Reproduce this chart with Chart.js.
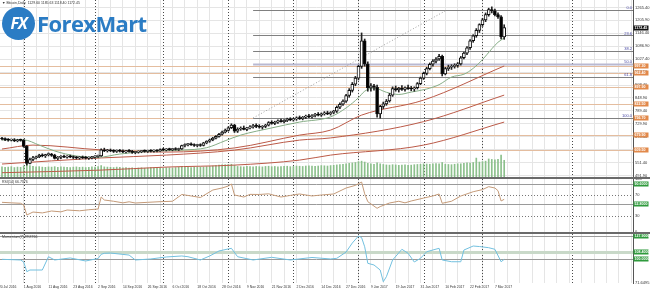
<!DOCTYPE html>
<html>
<head>
<meta charset="utf-8">
<script src="https://cdn.jsdelivr.net/npm/chart.js@4.4.1/dist/chart.umd.min.js"></script>
<style>
body { margin: 0; background: #fff; }
#wrap { position: relative; width: 650px; height: 292px; overflow: hidden; background: #fff; }
canvas { position: absolute; left: 0; }
.sep { position: absolute; left: 0; width: 650px; height: 2px; background: #6a6a6a; }
#logo { position: absolute; left: 2px; top: 6px; height: 34px; display: flex; align-items: center; }
#logo .circ { width: 33px; height: 33px; border-radius: 50%; background: #2b7cc4; color: #fff;
  font: italic bold 16px "Open Sans", sans-serif; display: flex; align-items: center; justify-content: center; letter-spacing: -1px; }
#logo .name { font: bold 22px "Open Sans", sans-serif; color: #2b7cc4; margin-left: 2px; letter-spacing: -0.6px; }
</style>
</head>
<body>
<div id="wrap">
  <canvas id="main" width="650" height="177" style="top:0"></canvas>
  <canvas id="rsi" width="650" height="55" style="top:178px"></canvas>
  <canvas id="mom" width="650" height="58" style="top:234px"></canvas>
  <div class="sep" style="top:177px"></div>
  <div class="sep" style="top:232px"></div>
  <div id="logo"><div class="circ">FX</div><span class="name">ForexMart</span></div>
</div>
<script>
// daily bars, index 0 = 21 Jul 2016
const opens = [664,660,657,655,656,652,655,654,626,548, 566,574,578,586,583,588,590,585,571,576,
  580,577,580,578,575,573,576,574,572,574, 577,580,582,610,606,608,605,603,607,604,
  601,605,603,598,600,602,604,603,606,604, 607,605,612,610,613,611,614,612,615,630,
  634,636,633,630,632,630,642,650,656,664, 672,682,692,700,712,724,696,706,710,704,
  711,716,722,718,714,718,724,736,732,738, 744,740,746,750,748,752,758,754,760,766,
  762,768,774,770,776,780,776,782,788,806, 820,834,860,884,912,940,994,1112,1005,895,
  905,898,775,810,822,835,862,892,886,894, 888,896,892,890,896,915,940,962,984,1004,
  1018,1028,1040,960,984,990,994,998,1006,1034, 1055,1080,1112,1135,1160,1186,1208,1232,1255,1250,
  1232,1222,1129.6];
const highs = [668,666,662,660,662,659,660,658,630,572, 580,582,590,592,590,596,594,590,580,584,
  586,584,586,582,580,579,582,580,578,580, 584,586,615,618,612,614,611,610,612,610,
  608,611,608,604,606,608,610,609,611,610, 612,615,618,616,618,617,620,618,632,638,
  640,642,638,636,638,645,652,660,668,676, 686,696,706,716,730,728,712,716,720,714,
  722,728,730,726,722,728,740,744,742,748, 752,750,756,758,756,762,766,764,770,774,
  772,778,782,780,786,788,786,792,812,826, 840,866,892,920,948,1000,1148,1120,1015,915,
  912,908,815,830,842,870,900,904,898,906, 900,908,902,900,920,945,968,990,1010,1025,
  1035,1050,1046,990,1000,1002,1006,1012,1040,1060, 1085,1118,1140,1168,1190,1215,1240,1262,1268,1258,
  1240,1228,1185.63];
const lows = [656,652,650,651,648,647,650,622,540,545, 560,568,574,578,575,582,580,568,565,570,
  574,572,574,570,568,567,570,568,566,569, 572,575,580,602,600,602,598,598,600,597,
  596,600,594,592,595,597,599,598,600,599, 601,603,606,605,608,606,609,607,612,624,
  628,630,626,624,626,628,638,645,652,660, 668,678,688,696,708,690,690,700,702,698,
  706,710,712,710,706,712,720,728,726,732, 738,734,740,744,742,746,750,748,754,758,
  756,762,766,764,770,772,770,776,782,800, 814,828,852,876,905,932,985,995,880,880,
  885,760,756,800,815,830,856,880,876,884, 880,888,882,880,890,910,934,955,978,995,
  1010,1022,950,955,975,980,986,990,1000,1028, 1048,1072,1105,1128,1150,1178,1200,1225,1240,1226,
  1215,1120,1118.4];
const closes = [660,657,655,656,652,655,654,626,548,566, 574,578,586,583,588,590,585,571,576,580,
  577,580,578,575,573,576,574,572,574,577, 580,582,610,606,608,605,603,607,604,601,
  605,603,598,600,602,604,603,606,604,607, 605,612,610,613,611,614,612,615,630,634,
  636,633,630,632,630,642,650,656,664,672, 682,692,700,712,724,696,706,710,704,711,
  716,722,718,714,718,724,736,732,738,744, 740,746,750,748,752,758,754,760,766,762,
  768,774,770,776,780,776,782,788,806,820, 834,860,884,912,940,994,1112,1005,895,905,
  898,775,810,822,835,862,892,886,894,888, 896,892,890,896,915,940,962,984,1004,1018,
  1028,1040,960,984,990,994,998,1006,1034,1055, 1080,1112,1135,1160,1186,1208,1232,1255,1250,1232,
  1222,1129.6,1172.45];
const volumes = [46,44,45,47,43,45,44,50,58,52, 48,46,47,45,44,46,45,47,44,46,
  45,44,43,45,46,44,45,43,44,46, 45,47,52,46,45,44,43,45,44,42,
  43,41,42,40,41,42,40,41,43,42, 41,42,40,43,42,41,43,44,48,45,
  44,43,45,44,46,45,47,48,50,52, 54,55,56,57,58,53,48,47,46,48,
  47,46,48,47,46,48,49,47,48,46, 47,48,49,47,48,50,49,48,50,51,
  50,49,50,52,51,50,52,53,55,56, 58,60,62,64,66,70,72,68,62,60,
  58,64,60,57,55,54,56,55,53,54, 55,53,54,56,57,58,60,59,58,60,
  61,60,66,58,57,56,58,60,60,62, 64,63,66,86,68,70,72,82,80,78,
  80,100,76];

// moving averages (bar index, value)
const ma20Idx = [0,7,12,17,24,31,38,48,58,66,72,77,87,96,106,111,115,117,120,124,128,132,137,141,145,149,152,155,158,160,162];
const ma20Val = [656,656,632,605,582,576,591,604,609,620,652,678,711,738,762,803,850,880,895,875,865,876,890,910,945,958,985,1025,1075,1105,1125];
const maLongIdx = [0,32,53,75,96,106,136,162];
const ma50Idx = [0,10,32,53,75,96,106,116,136,162];
const ma50Val = [614,632,610,600,619,678,701,770,839,996];
const ma100Val = [545,573,586,609,655,665,740,862];
const ma200Val = [505,517,531,540,563,586,632,738];

const rsiIdx = [0,3,6,7,8,10,13,16,19,21,25,28,31,32,33,36,39,41,43,47,51,55,58,61,64,68,71,73,74,75,78,80,83,86,90,93,96,100,103,107,111,114,116,117,118,121,122,125,128,130,132,136,139,141,142,145,148,152,155,157,159,160,161,162];
const rsiVal = [56,55,54.2,51,32,37.7,36,39.6,38,41.5,40,42,43.4,66,60.4,58,55,57,54.7,56,57.2,58,70.8,68,65.1,79.2,83,86.8,90.6,69.8,66,71,70.8,72,66,69,71.7,68,69.8,71.7,83,88,94.3,72,57.2,44.7,48,54.7,58,55,58.5,64,68,71.7,54.2,58,67.9,76,80,85.5,83,78,58.5,61.7];
const momIdx = [0,6,7,8,9,13,15,17,22,27,31,32,33,35,41,43,48,53,58,60,64,67,70,74,76,81,87,93,100,106,108,111,113,115,116,117,118,120,122,123,124,126,129,131,133,135,137,141,142,145,148,149,152,154,157,159,161,162];
const momVal = [100,99.2,96.8,85.2,87.2,87.2,103.1,99.2,101.6,98,101,106,107.2,107.5,105.1,99.2,100.4,102.8,104,103.1,99.2,104,110,113.2,103.1,99.2,102.4,99.2,102.2,100.4,101.2,108.7,119.5,127.9,126,115,95.2,93.2,87.2,73.2,79.2,99.2,112,107.2,96.8,101.2,109.1,113.2,99.2,97.1,97.1,111.1,115.9,115.3,113.9,112,97.1,100];

const dateIdx = [-1,7,15,23,31,39,47,55,63,71,79,87,95,103,111,119,127,135,143,151,159];
const dateLabels = ['20 Jul 2016','1 Aug 2016','11 Aug 2016','23 Aug 2016','2 Sep 2016','14 Sep 2016','26 Sep 2016',
  '6 Oct 2016','18 Oct 2016','28 Oct 2016','9 Nov 2016','21 Nov 2016','2 Dec 2016','14 Dec 2016','27 Dec 2016',
  '9 Jan 2017','19 Jan 2017','31 Jan 2017','10 Feb 2017','22 Feb 2017','7 Mar 2017'];
const sepIdx = [7,30,52,73,94,115,136,155,184];
const priceTicks = [491.9,551.4,610.9,670.4,729.9,789.4,848.9,908.4,967.9,1027.4,1086.9,1146.4,1205.9,1265.4];
const levelPrices = [997.3,962.4,897.9,822.5,756.7,679.9,609.5];
const fibRatios = [0, 0.236, 0.382, 0.5, 0.618, 1];
const fibNames = ['0.0','23.6','38.2','50.0','61.8','100.0'];
const fibLow = 756.7, fibHigh = 1253.5, fibLowIdx = 81, fibHighIdx = 143.5;
const lastPrice = 1172.45;
const rsiDotted = [30, 70];
const rsiMarks = [90.6, 52.8];
const momMarks = [127.9, 108.4, 100];

const FONT = '"Liberation Sans", Arial, sans-serif';
const xMin = -0.645, xMax = 203.55;
const gridIdx = [];
for (let v = -1; v <= 203; v += 4) gridIdx.push(v);

function xScale(showLabels) {
  return {
    type: 'linear', min: xMin, max: xMax, offset: false,
    afterBuildTicks: s => { s.ticks = gridIdx.map(v => ({ value: v })); },
    afterFit: s => { s.height = showLabels ? 9 : 0; s.paddingLeft = 0; s.paddingRight = 0; },
    grid: { color: '#e5e5e5', drawTicks: false, offset: false },
    border: { display: false },
    ticks: {
      display: showLabels, autoSkip: false, maxRotation: 0, align: 'start', padding: 2,
      font: { size: 3.4, family: FONT }, color: '#333',
      callback: v => { const k = dateIdx.indexOf(v); return k < 0 ? '' : dateLabels[k]; }
    }
  };
}
function yScale(min, max, ticks, fmt, showGrid) {
  return {
    position: 'right', min, max,
    afterBuildTicks: s => { s.ticks = ticks.map(v => ({ value: v })); },
    afterFit: s => { s.width = 17; s.paddingTop = 0; s.paddingBottom = 0; },
    grid: { display: showGrid, color: '#e5e5e5', drawTicks: false },
    border: { display: true, color: '#555' },
    ticks: { padding: 2, font: { size: 4, family: FONT }, color: '#333', callback: fmt }
  };
}
function pts(idx, val) { return idx.map((x, k) => ({ x, y: val[k] })); }
function hline(ctx, x1, x2, y, color, w, dash) {
  ctx.save();
  ctx.strokeStyle = color; ctx.lineWidth = w || 1; ctx.setLineDash(dash || []);
  ctx.beginPath(); ctx.moveTo(x1, y); ctx.lineTo(x2, y); ctx.stroke();
  ctx.restore();
}
function axisBox(ctx, a, y, fill, text) {
  ctx.fillStyle = fill;
  ctx.fillRect(a.right + 0.5, Math.round(y) - 2.5, 15, 5);
  ctx.fillStyle = '#fff';
  ctx.font = 'bold 3.6px ' + FONT;
  ctx.textAlign = 'left'; ctx.textBaseline = 'middle';
  ctx.fillText(text, a.right + 1.5, Math.round(y));
}
function header(ctx, a, text) {
  ctx.fillStyle = '#333'; ctx.font = '3.5px ' + FONT;
  ctx.textAlign = 'left'; ctx.textBaseline = 'top';
  ctx.fillText(text, 2, a.top + 1);
}

const sepLines = {
  id: 'sepLines',
  beforeDatasetsDraw(chart) {
    const { ctx, chartArea: a, scales: { x } } = chart;
    ctx.save();
    ctx.strokeStyle = '#4a4a4a'; ctx.lineWidth = 1; ctx.setLineDash([1, 2]);
    sepIdx.forEach(i => {
      const xx = Math.round(x.getPixelForValue(i)) + 0.5;
      ctx.beginPath(); ctx.moveTo(xx, a.top); ctx.lineTo(xx, a.bottom); ctx.stroke();
    });
    ctx.restore();
  }
};

const mainDecor = {
  id: 'mainDecor',
  beforeDatasetsDraw(chart) {
    const { ctx, chartArea: a, scales: { x, y } } = chart;
    ctx.save();
    ctx.beginPath(); ctx.rect(a.left, a.top, a.width, a.height); ctx.clip();
    levelPrices.forEach(p => hline(ctx, a.left, a.right, Math.round(y.getPixelForValue(p)) + 0.5, '#e4bd9f', 1));
    const fx = x.getPixelForValue(fibLowIdx);
    fibRatios.forEach(r => {
      const yy = Math.round(y.getPixelForValue(fibHigh - r * (fibHigh - fibLow))) + 0.5;
      if (r === 0.5) hline(ctx, fx, a.right, yy, '#b9b9d2', 2);
      else hline(ctx, fx, a.right, yy, '#808080', 1);
    });
    ctx.strokeStyle = '#a0a0a0'; ctx.lineWidth = 1; ctx.setLineDash([1, 2]);
    ctx.beginPath();
    ctx.moveTo(fx, y.getPixelForValue(fibLow));
    ctx.lineTo(x.getPixelForValue(fibHighIdx), y.getPixelForValue(fibHigh));
    ctx.stroke();
    ctx.restore();
  },
  afterDraw(chart) {
    const { ctx, chartArea: a, scales: { y } } = chart;
    ctx.save();
    ctx.fillStyle = '#4747a3'; ctx.font = '4px ' + FONT;
    ctx.textAlign = 'right'; ctx.textBaseline = 'bottom';
    fibRatios.forEach((r, k) => {
      const yy = y.getPixelForValue(fibHigh - r * (fibHigh - fibLow));
      ctx.fillText(fibNames[k], a.right - 1, yy);
    });
    levelPrices.forEach(p => axisBox(ctx, a, y.getPixelForValue(p), '#e2894a', p.toFixed(2)));
    axisBox(ctx, a, y.getPixelForValue(lastPrice), '#111', lastPrice.toFixed(2));
    ctx.fillStyle = '#333'; ctx.font = '3.5px ' + FONT;
    ctx.textAlign = 'left'; ctx.textBaseline = 'top';
    ctx.fillText('\u25BC Bitcoin,Daily  1129.60 1185.63 1118.40 1172.45', 2, 1);
    ctx.restore();
  }
};

const rsiDecor = {
  id: 'rsiDecor',
  beforeDatasetsDraw(chart) {
    const { ctx, chartArea: a, scales: { y } } = chart;
    rsiDotted.forEach(v => hline(ctx, a.left, a.right, Math.round(y.getPixelForValue(v)) + 0.5, '#777', 1, [1, 2]));
    rsiMarks.forEach(v => hline(ctx, a.left, a.right, Math.round(y.getPixelForValue(v)) + 0.5, '#9a9a9a', 1));
  },
  afterDraw(chart) {
    const { ctx, chartArea: a, scales: { y } } = chart;
    ctx.save();
    rsiMarks.forEach(v => axisBox(ctx, a, y.getPixelForValue(v), '#2f9a3c', v.toFixed(4)));
    header(ctx, a, 'RSI(14) 66.7376');
    ctx.restore();
  }
};

const momDecor = {
  id: 'momDecor',
  beforeDatasetsDraw(chart) {
    const { ctx, chartArea: a, scales: { y } } = chart;
    momMarks.forEach((v, k) => {
      const yy = Math.round(y.getPixelForValue(v)) + 0.5;
      if (k === 1) hline(ctx, a.left, a.right, yy, '#c9d9c9', 3);
      else hline(ctx, a.left, a.right, yy, '#9a9a9a', 1);
    });
  },
  afterDraw(chart) {
    const { ctx, chartArea: a, scales: { y } } = chart;
    ctx.save();
    momMarks.forEach(v => axisBox(ctx, a, y.getPixelForValue(v), '#2f9a3c', v.toFixed(4)));
    header(ctx, a, 'Momentum(7) 99.8766');
    ctx.restore();
  }
};

const common = {
  responsive: false, animation: false, devicePixelRatio: 1, events: [],
  plugins: { legend: { display: false }, tooltip: { enabled: false } }
};

new Chart(document.getElementById('main'), {
  type: 'bar',
  data: {
    datasets: [
      { type: 'bar', data: closes.map((c, i) => ({ x: i, y: [opens[i], c] })),
        backgroundColor: closes.map((c, i) => c >= opens[i] ? '#ffffff' : '#000000'),
        borderColor: '#111', borderWidth: 1, borderSkipped: false, barThickness: 3, minBarLength: 1,
        grouped: false, order: 0 },
      { type: 'bar', data: highs.map((h, i) => ({ x: i, y: [lows[i], h] })),
        backgroundColor: '#222', barThickness: 1, grouped: false, order: 1 },
      { type: 'line', data: pts(ma20Idx, ma20Val), borderColor: '#86ad86', borderWidth: 1,
        pointRadius: 0, cubicInterpolationMode: 'monotone', order: 2 },
      { type: 'line', data: pts(ma50Idx, ma50Val), borderColor: '#bb5a48', borderWidth: 1,
        pointRadius: 0, cubicInterpolationMode: 'monotone', order: 2 },
      { type: 'line', data: pts(maLongIdx, ma100Val), borderColor: '#bb5a48', borderWidth: 1,
        pointRadius: 0, cubicInterpolationMode: 'monotone', order: 2 },
      { type: 'line', data: pts(maLongIdx, ma200Val), borderColor: '#bb5a48', borderWidth: 1,
        pointRadius: 0, cubicInterpolationMode: 'monotone', order: 2 },
      { type: 'bar', data: volumes.map((v, i) => ({ x: i, y: v })), yAxisID: 'vol',
        backgroundColor: '#8cc08c', barThickness: 1, grouped: false, order: 3 }
    ]
  },
  options: Object.assign({}, common, {
    layout: { padding: 0 },
    scales: {
      x: xScale(false),
      y: yScale(485.3, 1299.5, priceTicks, v => v.toFixed(2), true),
      vol: { display: false, min: 0, max: 805 }
    }
  }),
  plugins: [sepLines, mainDecor]
});

new Chart(document.getElementById('rsi'), {
  type: 'line',
  data: { datasets: [
    { data: pts(rsiIdx, rsiVal), borderColor: '#c49a78', borderWidth: 1, pointRadius: 0 }
  ] },
  options: Object.assign({}, common, {
    layout: { padding: { top: 1, bottom: 1 } },
    scales: { x: xScale(false), y: yScale(0, 100, [0, 30, 70, 100], v => String(v), false) }
  }),
  plugins: [sepLines, rsiDecor]
});

new Chart(document.getElementById('mom'), {
  type: 'line',
  data: { datasets: [
    { data: pts(momIdx, momVal), borderColor: '#72c0df', borderWidth: 1, pointRadius: 0 }
  ] },
  options: Object.assign({}, common, {
    layout: { padding: 0 },
    scales: { x: xScale(true), y: yScale(71.65, 130.3, [71.6495], v => v.toFixed(4), false) }
  }),
  plugins: [sepLines, momDecor]
});
</script>
</body>
</html>
